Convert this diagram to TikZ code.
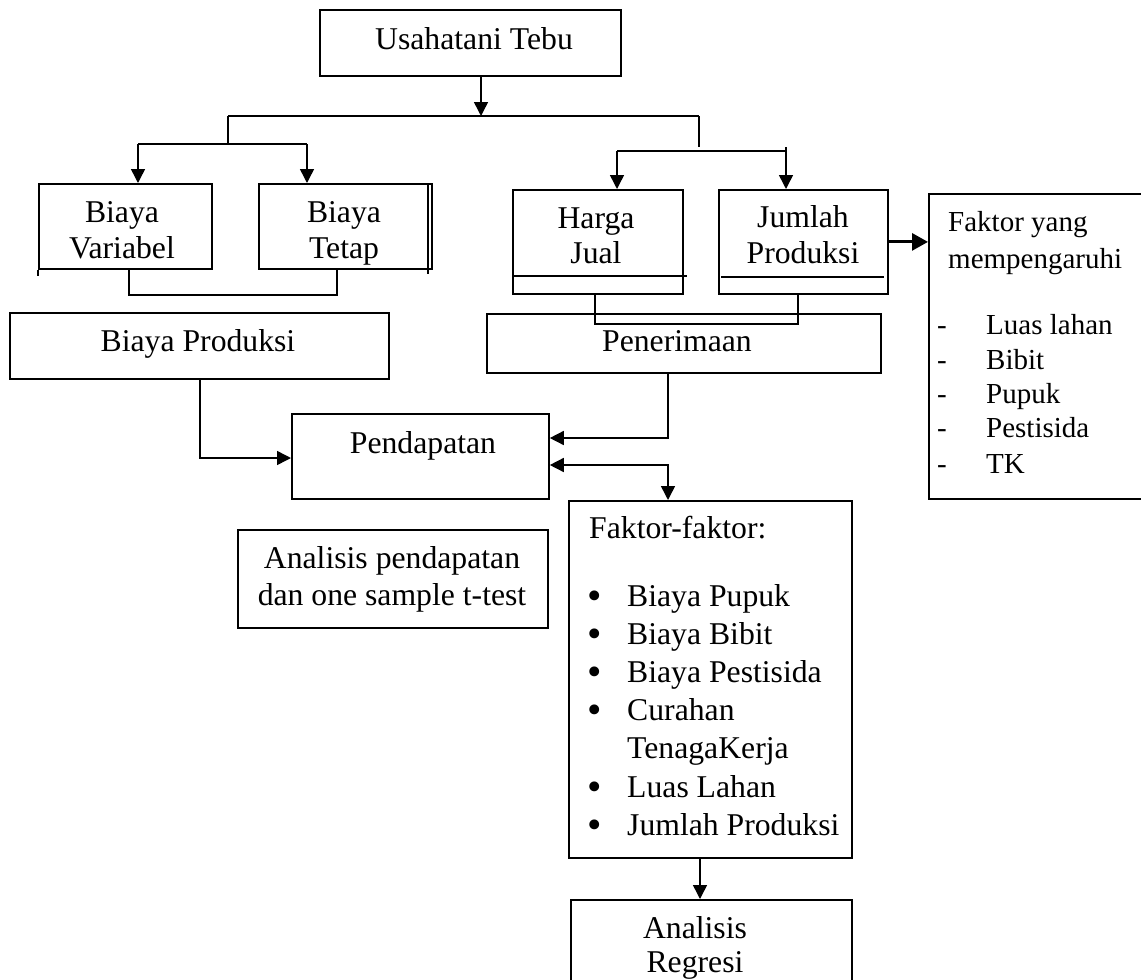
\documentclass[tikz,border=0pt]{standalone}
\usepackage{fontspec}
\setmainfont{Liberation Serif}
\usetikzlibrary{arrows.meta,calc}
\newcommand{\bul}{\makebox[40pt][l]{\scalebox{1.3}{\raisebox{-2.5pt}{•}}}}
\begin{document}
\begin{tikzpicture}[x=1pt,y=-1pt,
  box/.style={draw, line width=1.8pt, inner sep=0pt, anchor=north west},
  txt/.style={inner sep=0pt, anchor=base, font=\fontsize{31.7pt}{38pt}\selectfont},
  txtl/.style={txt, anchor=base west},
  txts/.style={inner sep=0pt, anchor=base west, font=\fontsize{29pt}{34.7pt}\selectfont},
  conn/.style={line width=1.5pt},
  arr/.style={conn, -{Triangle[width=14pt,length=14pt]}},
  arrb/.style={conn, {Triangle[width=14pt,length=14pt]}-{Triangle[width=14pt,length=14pt]}},
  thickarr/.style={line width=3pt, -{Triangle[width=17pt,length=16pt]}}]
\clip (0,0) rectangle (1141,980);
\fill[white] (0,0) rectangle (1141,980);

% boxes
\node[box, minimum width=301pt, minimum height=66pt] (usaha) at (319,9) {};
\node[box, minimum width=173pt, minimum height=85pt] (vari) at (38,183) {};
\node[box, minimum width=173pt, minimum height=85pt] (tetap) at (258,183) {};
\node[box, minimum width=379pt, minimum height=66pt] (bp) at (9,312) {};
\node[box, minimum width=394pt, minimum height=59pt] (pen) at (486,313) {};
\node[box, minimum width=170pt, minimum height=104pt] (harga) at (512,189) {};
\node[box, minimum width=169pt, minimum height=104pt] (jumlah) at (718,189) {};
\node[box, minimum width=230pt, minimum height=305pt] (fy) at (928,193) {};
\node[box, minimum width=257pt, minimum height=85pt] (pend) at (291,413) {};
\node[box, minimum width=310pt, minimum height=98pt] (ap) at (237,529) {};
\node[box, minimum width=283pt, minimum height=357pt] (ff) at (568,500) {};
\node[box, minimum width=281pt, minimum height=100pt] (ar) at (570,899) {};

% texts
\node[txt] (t-usaha) at (474,49) {Usahatani Tebu};
\node[txt] (t-vari1) at (122,222) {Biaya};
\node[txt] (t-vari2) at (122,258) {Variabel};
\node[txt] (t-tetap1) at (344,222) {Biaya};
\node[txt] (t-tetap2) at (344,258) {Tetap};
\node[txt] (t-bp) at (198,351) {Biaya Produksi};
\node[txt] (t-pen) at (677,351) {Penerimaan};
\node[txt] (t-harga1) at (596,228) {Harga};
\node[txt] (t-harga2) at (596,263) {Jual};
\node[txt] (t-jumlah1) at (803,227) {Jumlah};
\node[txt] (t-jumlah2) at (803,263) {Produksi};
\node[txt] (t-pend) at (423,453) {Pendapatan};
\node[txt] (t-ap1) at (392,568) {Analisis pendapatan};
\node[txt] (t-ap2) at (392,605) {dan one sample t-test};
\node[txt] (t-ar1) at (695,938) {Analisis};
\node[txt] (t-ar2) at (695,972) {Regresi};

\node[txts] (t-fy1) at (948,231) {Faktor yang};
\node[txts] (t-fy2) at (948,268) {mempengaruhi};
\foreach \y/\t [count=\i] in {334/Luas lahan,369/Bibit,403/Pupuk,437/Pestisida,473/TK}{
  \node[txts] (t-fyi\i) at (937,\y) {\makebox[49pt][l]{-}\t};
}

\node[txtl] (t-ff) at (589,538) {Faktor-faktor:};
\foreach \y/\t [count=\i] in {606/Biaya Pupuk,644/Biaya Bibit,682/Biaya Pestisida,720/Curahan,797/Luas Lahan,835/Jumlah Produksi}{
  \node[txtl] (t-ffi\i) at (587,\y) {\bul\t};
}
\node[txtl] (t-ffi7) at (627,758) {TenagaKerja};

% extra box lines
\draw[line width=1.8pt] (vari.south west) -- ++(0,6);
\draw[line width=1.8pt] ($(tetap.north east)+(-5,0)$) -- ++(0,91);
\draw[line width=1.8pt] ($(harga.south west)+(0,-19)$) -- ++(175,0);
\draw[line width=1.8pt] ($(jumlah.south west)+(3,-18)$) -- ++(163,0);

% junction coordinates
\coordinate (j0) at (481,116);
\coordinate (jl) at (228,116);
\coordinate (jr) at (699,116);
\coordinate (jrb) at (699,147);
\coordinate (jlb) at (228,144);
\coordinate (bl) at (138,144);
\coordinate (br) at (307,144);
\coordinate (hl) at (617,151);
\coordinate (hr) at (786,151);
\coordinate (hrt) at (786,147);
\coordinate (b1) at (129,295);
\coordinate (b2) at (337,295);
\coordinate (p1) at (595,324);
\coordinate (p2) at (798,324);
\coordinate (q1) at (200,458);
\coordinate (r1) at (668,438);
\coordinate (r2) at (668,465);
\coordinate (s1) at (700,857);

% connectors
\draw[arr] (usaha.south -| j0) -- (j0);
\draw[conn] (jl) -- (jr);
\draw[conn] (jr) -- (jrb);
\draw[conn] (jl) -- (jlb);
\draw[conn] (bl) -- (br);
\draw[arr] (bl) -- (bl |- vari.north);
\draw[arr] (br) -- (br |- tetap.north);
\draw[conn] (hl) -- (hr);
\draw[arr] (hl) -- (hl |- harga.north);
\draw[arr] (hrt) -- (hrt |- jumlah.north);

\draw[conn] (b1 |- vari.south) -- (b1) -- (b2) -- (b2 |- tetap.south);
\draw[conn] (p1 |- harga.south) -- (p1) -- (p2) -- (p2 |- jumlah.south);

\draw[thickarr] (jumlah.east) -- (jumlah.east -| fy.west);

\draw[arr] (bp.south -| q1) -- (q1) -- (q1 -| pend.west);
\draw[arr] (pen.south -| r1) -- (r1) -- (r1 -| pend.east);
\draw[arrb] (r2 -| pend.east) -- (r2) -- (r2 |- ff.north);
\draw[arr] (s1) -- (s1 |- ar.north);
\end{tikzpicture}
\end{document}
